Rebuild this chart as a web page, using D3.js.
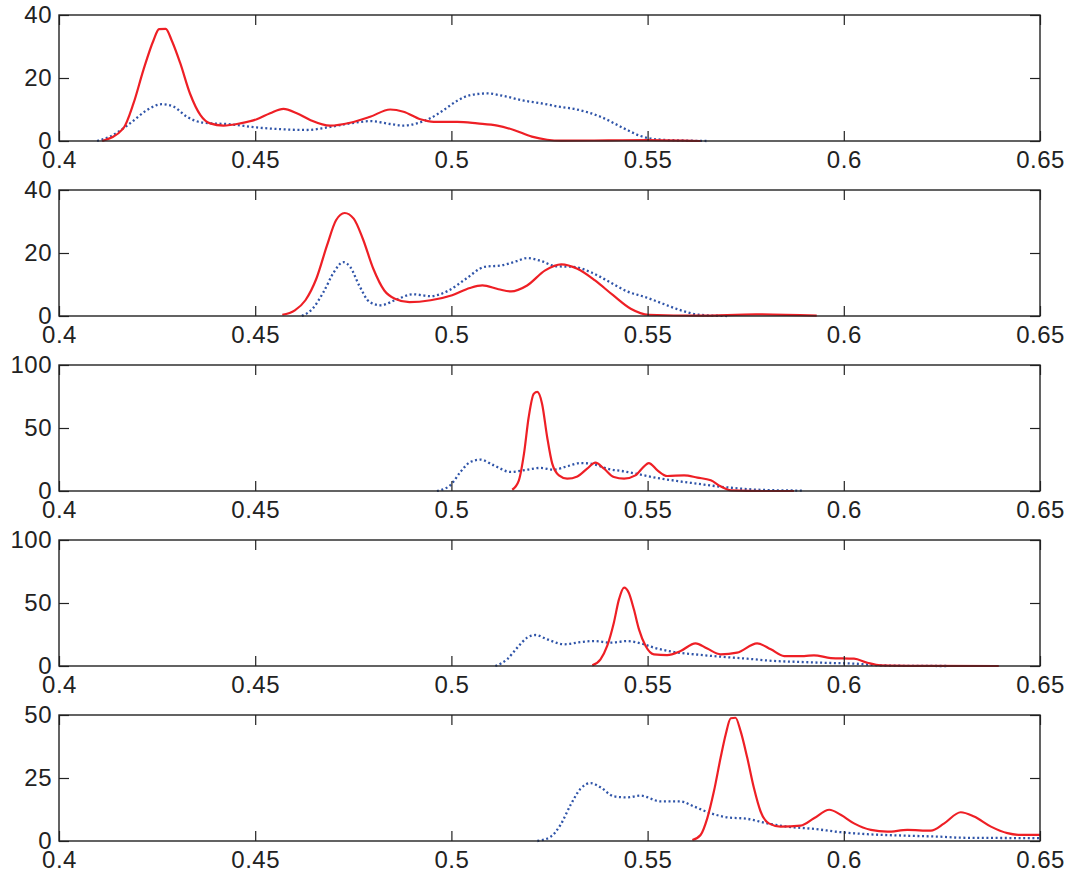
<!DOCTYPE html>
<html>
<head>
<meta charset="utf-8">
<script src="https://cdn.jsdelivr.net/npm/d3@7"></script>
<style>
  body { margin: 0; background: #fff; }
  svg text { font-family: "Liberation Sans", Arial, Helvetica, sans-serif; font-size: 24px; letter-spacing: 0.5px; fill: #222; }
</style>
</head>
<body>
<script>
// x ticks shared by every panel
const xTicks = [0.4, 0.45, 0.5, 0.55, 0.6, 0.65];
const xTickLabels = ["0.4", "0.45", "0.5", "0.55", "0.6", "0.65"];

// y ticks per panel
const yTicks1 = [0, 20, 40];
const yTicks2 = [0, 20, 40];
const yTicks3 = [0, 50, 100];
const yTicks4 = [0, 50, 100];
const yTicks5 = [0, 25, 50];

// panel 1
const red1X = [0.4110, 0.4164, 0.4190, 0.4215, 0.4241, 0.4255, 0.4272, 0.4287, 0.4309, 0.4334, 0.4360, 0.4385, 0.4419, 0.4462, 0.4504, 0.4538, 0.4572, 0.4606, 0.4640, 0.4691, 0.4742, 0.4793, 0.4844, 0.4878, 0.4921, 0.4955, 0.5015, 0.5066, 0.5117, 0.5159, 0.5205, 0.5244, 0.5280, 0.5400, 0.5500, 0.5635];
const red1Y = [0, 4.0, 12, 22.5, 32, 35.5, 35.6, 32, 24.7, 15, 8.3, 5.6, 4.9, 5.6, 6.9, 8.8, 10.2, 8.8, 6.7, 4.9, 5.8, 7.7, 10, 9.3, 6.9, 6.1, 6.1, 5.6, 4.9, 3.5, 1.4, 0.4, 0.1, 0.2, 0.3, 0];
const blue1X = [0.4097, 0.4130, 0.4181, 0.4224, 0.4262, 0.4292, 0.4326, 0.4368, 0.4436, 0.4504, 0.4572, 0.4632, 0.4683, 0.4742, 0.4793, 0.4844, 0.4878, 0.4912, 0.4946, 0.4980, 0.5015, 0.5049, 0.5091, 0.5133, 0.5185, 0.5227, 0.5278, 0.5312, 0.5380, 0.5440, 0.5482, 0.5525, 0.5610, 0.5650];
const blue1Y = [0, 1.4, 5.6, 9.8, 11.7, 10.9, 7.7, 5.8, 5.3, 4.3, 3.7, 3.5, 4.3, 5.6, 6.3, 5.4, 4.9, 5.6, 7.2, 9.8, 12.8, 14.6, 15.1, 14.3, 12.8, 12.0, 10.8, 10.2, 7.7, 4.0, 1.6, 0.5, 0.1, 0];

// panel 2
const red2X = [0.4569, 0.4601, 0.4628, 0.4656, 0.4683, 0.4706, 0.4728, 0.4751, 0.4774, 0.4801, 0.4829, 0.4856, 0.4893, 0.4947, 0.5002, 0.5047, 0.5079, 0.5120, 0.5152, 0.5193, 0.5239, 0.5280, 0.5321, 0.5366, 0.5412, 0.5457, 0.5503, 0.5630, 0.5776, 0.5931];
const red2Y = [0.4, 1.8, 5.0, 11.9, 22.4, 30.4, 32.7, 30.9, 24.6, 15.0, 8.1, 5.5, 4.4, 5.0, 6.6, 8.9, 9.7, 8.5, 7.8, 9.7, 14.5, 16.4, 15.0, 11.3, 6.6, 2.3, 0.4, 0.1, 0.5, 0.1];
const blue2X = [0.4619, 0.4646, 0.4674, 0.4701, 0.4724, 0.4742, 0.4765, 0.4792, 0.4820, 0.4856, 0.4902, 0.4947, 0.4993, 0.5038, 0.5084, 0.5129, 0.5166, 0.5193, 0.5230, 0.5266, 0.5312, 0.5357, 0.5403, 0.5448, 0.5494, 0.5539, 0.5585, 0.5631, 0.5703];
const blue2Y = [0, 2.3, 7.6, 14.0, 17.1, 15.6, 9.7, 4.4, 3.4, 5.0, 6.9, 6.3, 8.1, 11.9, 15.6, 16.1, 17.4, 18.4, 17.4, 15.8, 15.6, 13.8, 10.8, 7.8, 6.0, 3.9, 1.8, 0.4, 0];

// panel 3
const red3X = [0.5155, 0.5172, 0.5185, 0.5197, 0.5210, 0.5219, 0.5231, 0.5244, 0.5257, 0.5274, 0.5295, 0.5321, 0.5346, 0.5367, 0.5389, 0.5414, 0.5440, 0.5469, 0.5491, 0.5503, 0.5525, 0.5550, 0.5593, 0.5627, 0.5661, 0.5686, 0.5712, 0.5797, 0.5873];
const red3Y = [1, 8.5, 29.6, 58.7, 77.2, 78.6, 69.3, 42.9, 21.7, 12.4, 9.8, 11.6, 17.7, 22.5, 17.7, 11.1, 9.8, 12.4, 19.6, 22.2, 16.4, 11.9, 12.4, 10.6, 8.5, 3.7, 0.5, 0, 0];
const blue3X = [0.4963, 0.4997, 0.5023, 0.5048, 0.5074, 0.5108, 0.5151, 0.5193, 0.5227, 0.5261, 0.5295, 0.5329, 0.5363, 0.5397, 0.5440, 0.5482, 0.5525, 0.5576, 0.5627, 0.5678, 0.5729, 0.5797, 0.5899];
const blue3Y = [0, 4.5, 15.1, 23, 24.9, 20.4, 15.1, 16.9, 18.3, 16.9, 19.6, 22.2, 21.2, 17.7, 15.6, 13, 10.3, 7.9, 5.8, 3.7, 2.1, 0.8, 0.3];

// panel 4
const red4X = [0.5359, 0.5380, 0.5397, 0.5414, 0.5427, 0.5440, 0.5452, 0.5465, 0.5478, 0.5495, 0.5516, 0.5550, 0.5584, 0.5622, 0.5652, 0.5686, 0.5728, 0.5779, 0.5814, 0.5848, 0.5899, 0.5924, 0.5967, 0.6026, 0.6060, 0.6094, 0.6200, 0.6395];
const red4Y = [0.5, 5.3, 15.9, 34.4, 52.9, 62.2, 58.2, 45, 29.1, 15.9, 9.3, 8.7, 11.9, 18, 13.8, 9.3, 10.6, 18, 13.2, 7.9, 7.9, 8.5, 6.3, 5.8, 2.6, 0.5, 0.1, 0];
const blue4X = [0.5112, 0.5142, 0.5168, 0.5193, 0.5214, 0.5244, 0.5287, 0.5329, 0.5363, 0.5406, 0.5448, 0.5482, 0.5516, 0.5567, 0.5618, 0.5686, 0.5754, 0.5822, 0.5890, 0.5967, 0.6026, 0.6094, 0.6179, 0.6265];
const blue4Y = [0, 5.3, 14.6, 22.5, 24.6, 21.2, 17.2, 19, 19.8, 18.5, 19.8, 18, 14.6, 11.1, 9.3, 7.4, 5.8, 4.0, 3.2, 2.4, 1.9, 0.5, 0.1, 0];

// panel 5
const red5X = [0.5614, 0.5635, 0.5652, 0.5669, 0.5686, 0.5699, 0.5712, 0.5724, 0.5737, 0.5754, 0.5771, 0.5788, 0.5809, 0.5839, 0.5890, 0.5924, 0.5963, 0.5992, 0.6026, 0.6069, 0.6111, 0.6162, 0.6222, 0.6256, 0.6298, 0.6332, 0.6375, 0.6417, 0.6451, 0.6500];
const red5Y = [0.4, 2.4, 9, 19.7, 33, 42.3, 48.7, 48.9, 43.6, 33, 21, 11.7, 7.0, 5.7, 6.1, 9, 12.4, 10.4, 7, 4.4, 3.7, 4.4, 4.1, 7, 11.4, 9.7, 5.7, 3.1, 2.4, 2.4];
const blue5X = [0.5219, 0.5253, 0.5278, 0.5304, 0.5329, 0.5355, 0.5380, 0.5414, 0.5448, 0.5482, 0.5533, 0.5584, 0.5618, 0.5661, 0.5703, 0.5754, 0.5805, 0.5856, 0.5924, 0.5992, 0.6060, 0.6162, 0.6247, 0.6298, 0.6400, 0.6500];
const blue5Y = [0, 1.7, 6.4, 14.4, 20.7, 23, 21.3, 17.7, 17.3, 18, 15.7, 15.7, 13.7, 11, 9.4, 8.8, 7, 5.7, 4.8, 3.5, 2.7, 2.1, 1.7, 1.3, 1.2, 1.1];

const panels = [
    { yTicks: yTicks1, red: [red1X, red1Y], blue: [blue1X, blue1Y] },
    { yTicks: yTicks2, red: [red2X, red2Y], blue: [blue2X, blue2Y] },
    { yTicks: yTicks3, red: [red3X, red3Y], blue: [blue3X, blue3Y] },
    { yTicks: yTicks4, red: [red4X, red4Y], blue: [blue4X, blue4Y] },
    { yTicks: yTicks5, red: [red5X, red5Y], blue: [blue5X, blue5Y] }
];

const width = 1073;
const height = 877;
const left = 59, right = 1040;
const panelTop = 15, panelStep = 175, panelH = 126;

const svg = d3.select("body").append("svg")
    .attr("width", width)
    .attr("height", height);

const x = d3.scaleLinear().domain([0.4, 0.65]).range([left, right]);

panels.forEach((p, i) => {
    const top = panelTop + i * panelStep;
    const bottom = top + panelH;
    const yMax = p.yTicks[p.yTicks.length - 1];
    const y = d3.scaleLinear().domain([0, yMax]).range([bottom, top]);

    const g = svg.append("g");

    const line = d3.line()
        .x(d => x(d[0]))
        .y(d => y(d[1]))
        .curve(d3.curveMonotoneX);

    const bluePts = d3.zip(p.blue[0], p.blue[1]);
    const redPts = d3.zip(p.red[0], p.red[1]);

    g.append("path")
        .datum(bluePts)
        .attr("fill", "none")
        .attr("stroke", "#2f54a8")
        .attr("stroke-width", 2.3)
        .attr("stroke-dasharray", "2,2.6")
        .attr("d", line);

    g.append("path")
        .datum(redPts)
        .attr("fill", "none")
        .attr("stroke", "#ee1f25")
        .attr("stroke-width", 2.2)
        .attr("stroke-linejoin", "round")
        .attr("d", line);

    // axes, matlab style: ticks pointing in, on all four sides
    const bottomAxis = g.append("g")
        .attr("transform", `translate(0,${bottom})`)
        .call(d3.axisBottom(x).tickValues(xTicks)
            .tickFormat((d, j) => xTickLabels[j])
            .tickSize(-10).tickSizeOuter(0).tickPadding(10));
    const topAxis = g.append("g")
        .attr("transform", `translate(0,${top})`)
        .call(d3.axisTop(x).tickValues(xTicks).tickFormat("")
            .tickSize(-10).tickSizeOuter(0));
    const leftAxis = g.append("g")
        .attr("transform", `translate(${left},0)`)
        .call(d3.axisLeft(y).tickValues(p.yTicks).tickFormat(d3.format("d"))
            .tickSize(-10).tickSizeOuter(0).tickPadding(7));
    const rightAxis = g.append("g")
        .attr("transform", `translate(${right},0)`)
        .call(d3.axisRight(y).tickValues(p.yTicks).tickFormat("")
            .tickSize(-10).tickSizeOuter(0));

    [bottomAxis, topAxis, leftAxis, rightAxis].forEach(a => {
        a.select(".domain").remove();
        a.selectAll("line").attr("stroke", "#222").attr("stroke-width", 1.2);
        a.attr("font-size", null).attr("font-family", null);
    });

    g.append("rect")
        .attr("x", left)
        .attr("y", top)
        .attr("width", right - left)
        .attr("height", panelH)
        .attr("fill", "none")
        .attr("stroke", "#222")
        .attr("stroke-width", 1.4);
});
</script>
</body>
</html>
